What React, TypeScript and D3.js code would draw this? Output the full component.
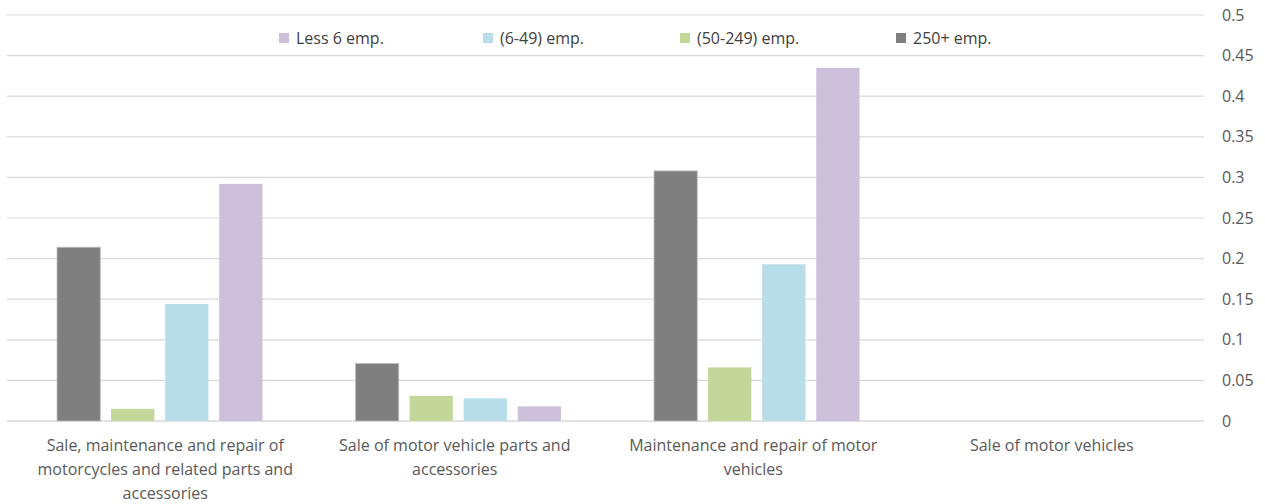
import React from "react";
import * as d3 from "d3";

const categories = [
  "Sale, maintenance and repair of motorcycles and related parts and accessories",
  "Sale of motor vehicle parts and accessories",
  "Maintenance and repair of motor vehicles",
  "Sale of motor vehicles",
];
const categoryLines = [
  ["Sale, maintenance and repair of", "motorcycles and related parts and", "accessories"],
  ["Sale of motor vehicle parts and", "accessories"],
  ["Maintenance and repair of motor", "vehicles"],
  ["Sale of motor vehicles"],
];
const seriesNames = ["250+  emp.", "(50-249) emp.", "(6-49) emp.", "Less 6 emp."];
const seriesColors = ["#7f7f7f", "#c4d79b", "#b7dee8", "#ccc0da"];
const v250 = [0.214, 0.071, 0.308, 0];
const v50 = [0.015, 0.031, 0.066, 0];
const v6 = [0.144, 0.028, 0.193, 0];
const vLess6 = [0.292, 0.018, 0.435, 0];
const seriesValues = [v250, v50, v6, vLess6];
const ticks = [0, 0.05, 0.1, 0.15, 0.2, 0.25, 0.3, 0.35, 0.4, 0.45, 0.5];
const legendOrder = [3, 2, 1, 0];
const legendX = [279, 483, 680, 896];

export default function App() {
  const W = 1265, H = 504;
  const left = 7, right = 1201, gridRight = 1204, top = 15, bottom = 421;
  const y = d3.scaleLinear().domain([0, 0.5]).range([bottom, top]);
  const x0 = d3.scaleBand<number>().domain(d3.range(categories.length)).range([left, right]).paddingInner(0).paddingOuter(0);
  const x1 = d3.scaleBand<number>().domain(d3.range(seriesNames.length)).range([50, x0.bandwidth() - 43]).paddingInner(0.2).paddingOuter(0);
  const font = "'Open Sans', 'Liberation Sans', Arial, sans-serif";
  return (
    <svg width={W} height={H} style={{ position: "absolute", left: 0, top: 0, background: "#fff" }} fontFamily={font}>
      {ticks.map((t) => (
        <g key={t}>
          <line x1={left} x2={gridRight} y1={y(t)} y2={y(t)} stroke="#d9d9d9" strokeWidth={t === 0 ? 1.5 : 1.2} />
          <text x={1222} y={y(t)} dy="0.35em" fontSize={16} fill="#595959">{String(t)}</text>
        </g>
      ))}
      {categories.map((c, ci) => (
        <g key={c} transform={`translate(${x0(ci)},0)`}>
          {seriesValues.map((vals, si) => (
            vals[ci] > 0 ? (
              <rect key={si} x={x1(si)} width={x1.bandwidth()} y={y(vals[ci])} height={bottom - y(vals[ci])}
                fill={seriesColors[si]} stroke={si === 0 ? "#bfbfbf" : "none"} strokeWidth={0.8} />
            ) : null
          ))}
          {categoryLines[ci].map((ln, li) => (
            <text key={li} x={x0.bandwidth() / 2 + (ci === 0 ? 9 : 0)} y={445 + li * 24} dy="0.35em" textAnchor="middle" fontSize={16} fill="#595959">{ln}</text>
          ))}
        </g>
      ))}
      {legendOrder.map((si, i) => (
        <g key={si}>
          <rect x={legendX[i]} y={33} width={10} height={10} fill={seriesColors[si]} />
          <text x={legendX[i] + 17} y={38} dy="0.35em" fontSize={16} fill="#404040">{seriesNames[si]}</text>
        </g>
      ))}
    </svg>
  );
}
